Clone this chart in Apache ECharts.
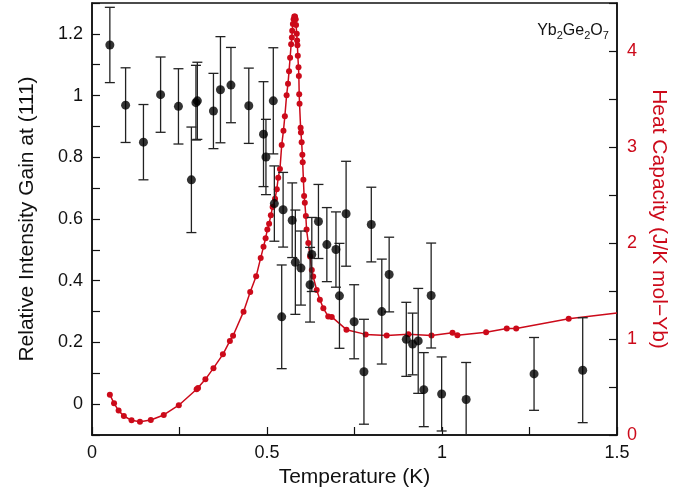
<!DOCTYPE html>
<html>
<head>
<meta charset="utf-8">
<script src="https://cdn.jsdelivr.net/npm/echarts@6/dist/echarts.min.js"></script>
<style>
html,body{margin:0;padding:0;background:#fff;}
#chart{width:684px;height:493px;}
</style>
</head>
<body>
<div id="chart"></div>
<script>
// Relative intensity gain at (111) (left axis)
var gainT = [0.051,0.096,0.147,0.196,0.247,0.284,0.297,0.301,0.347,0.367,0.397,0.448,0.490,0.497,0.518,0.521,0.542,0.546,0.572,0.581,0.597,0.623,0.628,0.647,0.671,0.697,0.707,0.726,0.749,0.777,0.798,0.828,0.849,0.898,0.916,0.932,0.948,0.969,0.999,1.069,1.263,1.402];
var gain = [1.164,0.969,0.849,1.003,0.965,0.727,0.977,0.983,0.950,1.019,1.034,0.967,0.875,0.801,0.983,0.650,0.283,0.630,0.596,0.460,0.441,0.387,0.485,0.592,0.517,0.501,0.351,0.617,0.267,0.105,0.582,0.300,0.420,0.210,0.195,0.205,0.047,0.352,0.033,0.015,0.098,0.110];
var gainErr = [0.122,0.121,0.122,0.122,0.122,0.171,0.121,0.125,0.122,0.172,0.122,0.122,0.170,0.122,0.172,0.122,0.168,0.121,0.121,0.169,0.120,0.121,0.120,0.120,0.120,0.122,0.170,0.170,0.120,0.170,0.121,0.170,0.121,0.120,0.100,0.170,0.120,0.170,0.120,0.120,0.118,0.170];

// Heat capacity (right axis)
var heatT = [0.051,0.063,0.076,0.091,0.113,0.137,0.168,0.205,0.248,0.299,0.303,0.324,0.347,0.374,0.394,0.403,0.433,0.452,0.469,0.482,0.490,0.496,0.501,0.506,0.511,0.516,0.523,0.528,0.532,0.537,0.542,0.547,0.551,0.556,0.560,0.563,0.566,0.569,0.571,0.572,0.574,0.576,0.578,0.580,0.582,0.583,0.585,0.586,0.587,0.588,0.590,0.591,0.592,0.593,0.596,0.597,0.599,0.601,0.602,0.604,0.606,0.608,0.611,0.613,0.618,0.623,0.628,0.632,0.642,0.651,0.661,0.675,0.685,0.727,0.782,0.842,0.904,0.970,1.030,1.044,1.126,1.185,1.212,1.362];
var heatC = [0.42,0.33,0.254,0.198,0.153,0.139,0.157,0.209,0.31,0.477,0.49,0.58,0.696,0.84,0.98,1.034,1.285,1.49,1.653,1.845,1.96,2.05,2.14,2.2,2.29,2.374,2.46,2.56,2.68,2.77,3.02,3.17,3.32,3.54,3.66,3.79,3.93,4.07,4.14,4.21,4.28,4.33,4.36,4.36,4.33,4.27,4.18,4.11,4.06,3.95,3.83,3.74,3.55,3.45,3.2,3.15,3.05,2.92,2.84,2.66,2.49,2.42,2.28,2.14,2.0,1.86,1.72,1.65,1.51,1.41,1.32,1.235,1.23,1.097,1.048,1.037,1.05,1.037,1.065,1.04,1.07,1.11,1.11,1.21];
// where the curve leaves the frame at the right edge
var heatEdge = [1.5, 1.27];

var xLabels = ['0','0.5','1','1.5'];
var RED = '#cc0a1a';
var FONT = 'Liberation Sans';

var errData = gainT.map(function(t,i){return [t, gain[i], gainErr[i]];});
var ptData = gainT.map(function(t,i){return [t, gain[i]];});
var heatData = heatT.map(function(t,i){return [t, heatC[i]];});
heatData.push({value: heatEdge, symbol: 'none'});

var chart = echarts.init(document.getElementById('chart'), null, {renderer:'canvas'});
chart.setOption({
  animation: false,
  backgroundColor: '#fff',
  textStyle: {fontFamily: FONT},
  grid: {left: 92, right: 67, top: 3, bottom: 58, show: true, borderColor: '#111', borderWidth: 1.5, containLabel: false},
  xAxis: {
    type: 'value', min: 0, max: 1.5, interval: 0.25,
    name: 'Temperature (K)', nameLocation: 'middle', nameGap: 32,
    nameTextStyle: {fontSize: 21, color: '#111', fontFamily: FONT},
    axisLine: {onZero: false, lineStyle: {color: '#111', width: 1.5}},
    axisTick: {inside: true, length: 8, lineStyle: {color: '#111', width: 1.2}},
    splitLine: {show: false},
    axisLabel: {fontSize: 18, color: '#111', margin: 9, fontFamily: FONT,
      formatter: function(v){ var k = Math.round(v*4); return k%2===0 ? xLabels[k/2] : ''; }}
  },
  yAxis: [{
    type: 'value', min: -0.1, max: 1.3, interval: 0.1, position: 'left',
    name: 'Relative Intensity Gain at (111)', nameLocation: 'middle', nameGap: 54,
    nameTextStyle: {fontSize: 21, color: '#111', fontFamily: FONT},
    axisLine: {show: true, onZero: false, lineStyle: {color: '#111', width: 1.5}},
    axisTick: {show: true, inside: true, length: 8, lineStyle: {color: '#111', width: 1.2}},
    splitLine: {show: false},
    axisLabel: {fontSize: 18, color: '#111', margin: 9, fontFamily: FONT,
      formatter: function(v){ var k = Math.round(v*10); if (k<0 || k%2!==0) return ''; return k===0 ? '0' : String(+(k/10).toFixed(1)); }}
  },{
    type: 'value', min: 0, max: 4.5, interval: 0.5, position: 'right',
    name: 'Heat Capacity (J/K mol\u2212Yb)', nameLocation: 'middle', nameGap: 28, nameRotate: -90,
    nameTextStyle: {fontSize: 21, color: RED, fontFamily: FONT},
    axisLine: {show: true, onZero: false, lineStyle: {color: '#111', width: 1.5}},
    axisTick: {show: true, inside: true, length: 8, lineStyle: {color: '#111', width: 1.2}},
    splitLine: {show: false},
    axisLabel: {fontSize: 18, color: RED, margin: 10, fontFamily: FONT,
      formatter: function(v){ var k = Math.round(v*2); return k%2===0 ? String(k/2) : ''; }}
  }],
  graphic: [{
    type: 'text', x: 573, y: 21, z: 100,
    style: {
      text: '{n|Yb}{s|2}{n|Ge}{s|2}{n|O}{s|7}',
      align: 'center', verticalAlign: 'top',
      rich: {
        n: {fontSize: 16, fontFamily: FONT, fill: '#111', lineHeight: 20},
        s: {fontSize: 11, fontFamily: FONT, fill: '#111', lineHeight: 11, verticalAlign: 'bottom'}
      }
    }
  }],
  series: [{
    type: 'line', name: 'C', yAxisIndex: 1, data: heatData,
    symbol: 'circle', symbolSize: 6, showAllSymbol: true,
    lineStyle: {color: RED, width: 1.5}, itemStyle: {color: RED},
    clip: true, z: 2
  },{
    type: 'custom', name: 'err', yAxisIndex: 0, data: errData, clip: true, z: 3,
    renderItem: function(params, api){
      var x = api.value(0), y = api.value(1), e = api.value(2);
      var a = api.coord([x, y+e]), b = api.coord([x, y-e]);
      var w = 5, st = {stroke: '#222', lineWidth: 1.3};
      return {type: 'group', children: [
        {type: 'line', shape: {x1: a[0], y1: a[1], x2: b[0], y2: b[1]}, style: st},
        {type: 'line', shape: {x1: a[0]-w, y1: a[1], x2: a[0]+w, y2: a[1]}, style: st},
        {type: 'line', shape: {x1: b[0]-w, y1: b[1], x2: b[0]+w, y2: b[1]}, style: st}
      ]};
    }
  },{
    type: 'scatter', name: 'gain', yAxisIndex: 0, data: ptData,
    symbol: 'circle', symbolSize: 9, itemStyle: {color: '#000'}, z: 4
  }]
});
</script>
</body>
</html>
